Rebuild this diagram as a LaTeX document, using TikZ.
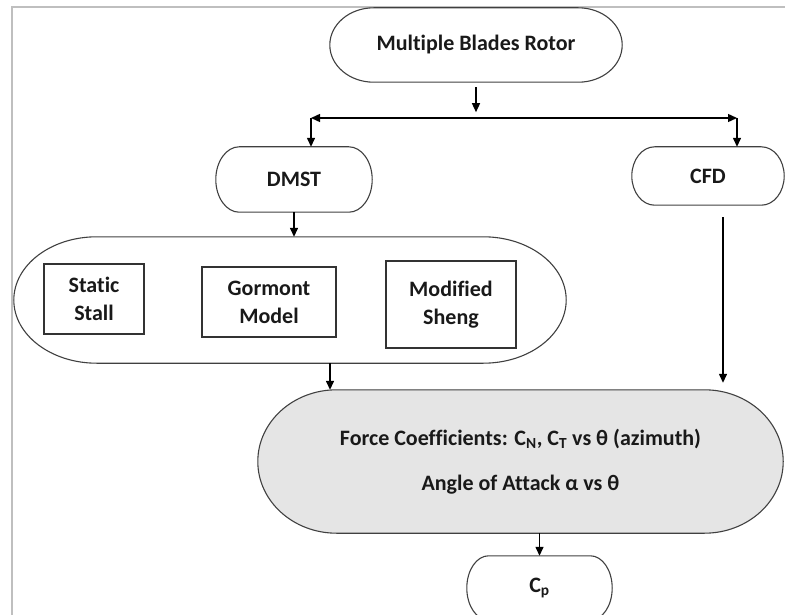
\documentclass[tikz,border=0pt]{standalone}
\usepackage{fontspec}
\setmainfont{Carlito}[Ligatures=CommonOff]
\usetikzlibrary{arrows.meta,calc,backgrounds}
\tikzset{
  box/.style={inner sep=0pt, font=\bfseries\fontsize{22}{28}\selectfont, align=center, text=black!90},
  sq/.style={box, draw=black!80, line width=1.3pt},
  arr/.style={-{Triangle[length=9pt,width=8pt]}, line width=1.4pt},
  dbl/.style={{Triangle[length=9pt,width=8pt]}-{Triangle[length=9pt,width=8pt]}, line width=1.4pt},
  termline/.style={draw=black!75, line width=1.1pt},
  framestyle/.style={draw=black!25, line width=2.5pt},
}
\newcommand\termshape[2]{%
  \path[#1] let \p1=(#2.north west), \p2=(#2.south east),
    \n1={0.15*(\x2-\x1)}, \n2={0.5*(\y1-\y2)} in
    (\x1+\n1*1pt,\y1) -- (\x2-\n1*1pt,\y1)
    arc[start angle=90,end angle=-90,x radius=\n1*1pt,y radius=\n2*1pt]
    -- (\x1+\n1*1pt,\y2)
    arc[start angle=270,end angle=90,x radius=\n1*1pt,y radius=\n2*1pt] -- cycle;}
\begin{document}
\begin{tikzpicture}[x=1pt,y=-1pt]
\clip (0,0) rectangle (785,615);
% nodes
\node[box, minimum width=292pt, minimum height=74pt] (mbr) at (476,45) {Multiple Blades Rotor};
\node[box, minimum width=156pt, minimum height=65pt] (dmst) at (294,179.5) {DMST};
\node[box, minimum width=152pt, minimum height=58pt] (cfd) at (708,176) {CFD};
\node[box, minimum width=552pt, minimum height=126pt] (models) at (290,300) {};
\node[sq, minimum width=100pt, minimum height=70pt] (static) at (94,299) {Static\\Stall};
\node[sq, minimum width=134pt, minimum height=70pt] (gormont) at (269,302) {Gormont\\Model};
\node[sq, minimum width=130pt, minimum height=87pt] (sheng) at (451,304.5) {Modified\\Sheng};
\node[box, minimum width=525pt, minimum height=143pt] (force) at (520.5,461.5)
  {Force Coefficients: C\textsubscript{N}, C\textsubscript{T} vs θ (azimuth)\\[17pt]Angle of Attack α vs θ};
\node[box, minimum width=145pt, minimum height=64pt] (cp) at (539.5,588) {C\textsubscript{p}};
\coordinate (hl) at (311,118);
\coordinate (hr) at (737,118);
% shapes
\begin{scope}[on background layer]
  \path[framestyle] (12,616) -- (12,7) -- (786,7);
  \termshape{termline}{mbr}
  \termshape{termline}{dmst}
  \termshape{termline}{cfd}
  \termshape{termline}{models}
  \termshape{termline,fill=black!10}{force}
  \termshape{termline}{cp}
\end{scope}
% connectors
\draw[arr] ([yshift=-5pt]mbr.south) -- ++(0,25);
\draw[dbl] (hl) -- (hr);
\draw[arr] (hl) -- (hl |- dmst.north);
\draw[arr] (hr) -- (hr |- cfd.north);
\draw[arr] (dmst.south) -- (dmst.south |- models.north);
\draw[arr] ([xshift=40pt]models.south) -- ([xshift=40pt]models.south |- force.north);
\draw[arr] ([xshift=15pt,yshift=-12pt]cfd.south) -- ([xshift=15pt,yshift=7pt]cfd.south |- force.north);
\draw[arr] (cp.north |- force.south) -- (cp.north);
\end{tikzpicture}
\end{document}
